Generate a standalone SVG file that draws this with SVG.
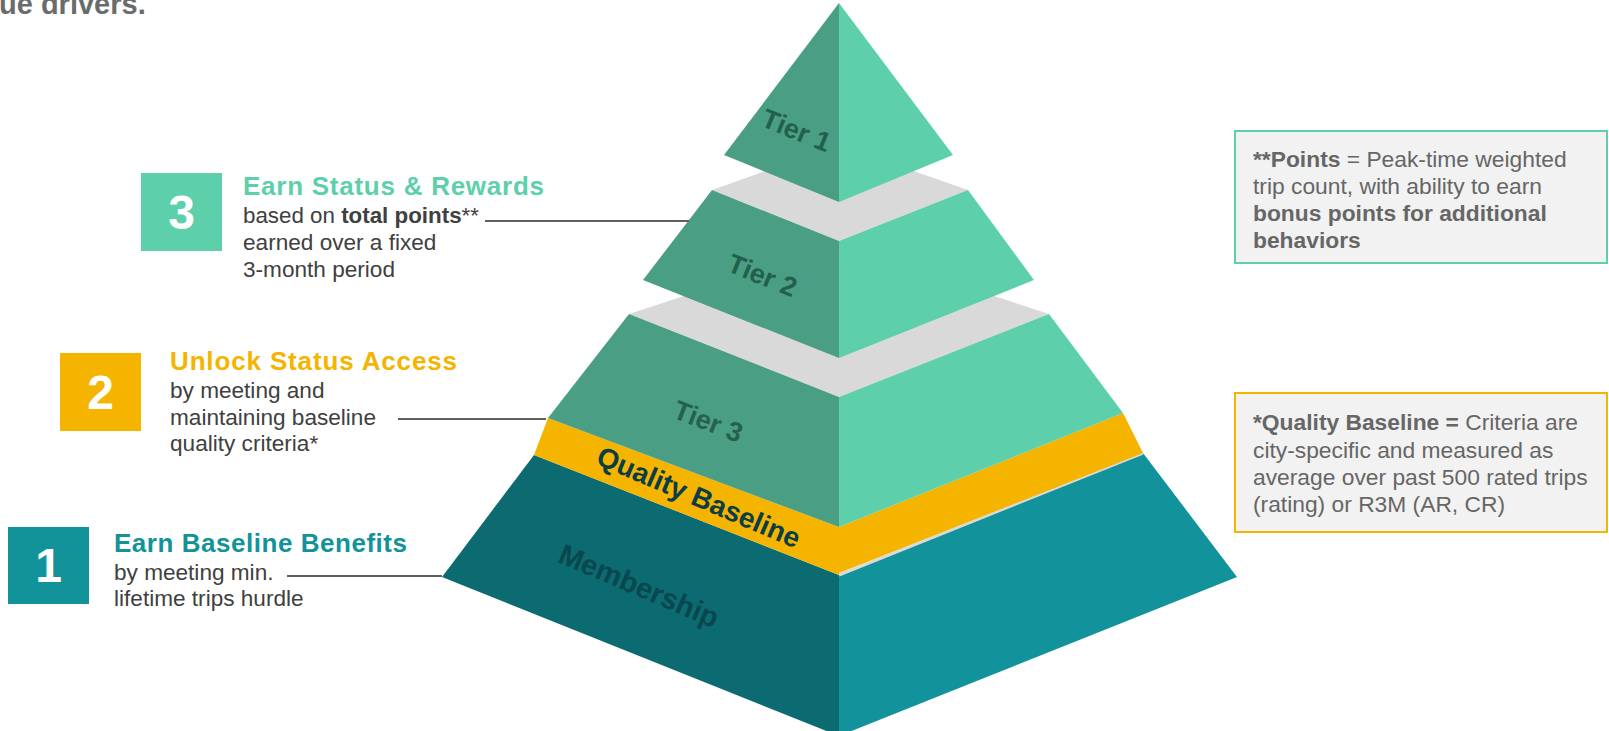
<svg xmlns="http://www.w3.org/2000/svg" width="1609" height="731" viewBox="0 0 1609 731">
<style>
.t{font-family:"Liberation Sans",Arial,sans-serif}
.num{font-family:"Liberation Sans",Arial,sans-serif;font-weight:bold;font-size:48px;fill:#fff;text-anchor:middle}
.title{font-family:"Liberation Sans",Arial,sans-serif;font-weight:bold;font-size:26px}
.body{font-family:"Liberation Sans",Arial,sans-serif;font-size:22.6px;fill:#404040}
.note{font-family:"Liberation Sans",Arial,sans-serif;font-size:22.8px;fill:#666}
.b{font-weight:bold}
.lbl{font-family:"Liberation Sans",Arial,sans-serif;font-weight:bold;text-anchor:middle}
.dk{fill:#4A9E84}.lt{fill:#5ECFAB}.gr{fill:#D9D9D9}.gd{fill:#F4B400}
.conn{stroke:#5f5f5f;stroke-width:2;fill:none}
</style>
<rect width="1609" height="731" fill="#fff"/>
<text class="t" x="-1" y="14" font-size="29" font-weight="bold" fill="#6b6b6b">ue drivers.</text>

<g id="pyramid">
  <g id="membership">
    <polygon points="534,455 839,575 839,736 442,577" fill="#0C6B71"/>
    <polygon points="839,575 1143,453 1237,577 839,736" fill="#12929A"/>
    <line x1="839" y1="575" x2="1143" y2="453" stroke="#DADADA" stroke-width="3"/>
    <text class="lbl" font-size="29" fill="#07474D" transform="translate(635,595) rotate(23)">Membership</text>
  </g>
  <g id="quality-baseline">
    <polygon points="548,418 839,527 839,575 534,455" class="gd"/>
    <polygon points="839,527 1123,413 1143,453 839,573" class="gd"/>
    <text class="lbl" font-size="28" fill="#0B3D47" transform="translate(695,506) rotate(23)">Quality Baseline</text>
  </g>
  <g id="tier3">
    <polygon points="629,314 839,245 1049,314 839,397" class="gr"/>
    <polygon points="629,314 839,397 839,527 548,418" class="dk"/>
    <polygon points="839,397 1049,314 1123,413 839,527" class="lt"/>
    <text class="lbl" font-size="27" fill="#24614E" transform="translate(705,430) rotate(21)">Tier 3</text>
  </g>
  <g id="tier2">
    <polygon points="712,190 839,145 968,190 839,241" class="gr"/>
    <polygon points="712,190 839,241 839,358 643,280" class="dk"/>
    <polygon points="839,241 968,190 1034,280 839,358" class="lt"/>
    <text class="lbl" font-size="27" fill="#22604C" transform="translate(759,284) rotate(22)">Tier 2</text>
  </g>
  <g id="tier1">
    <polygon points="839,3 839,202 724,155" class="dk"/>
    <polygon points="839,3 953,155 839,202" class="lt"/>
    <text class="lbl" font-size="27" fill="#22604C" transform="translate(793,139) rotate(22)">Tier 1</text>
  </g>
</g>

<g id="connectors">
  <line class="conn" x1="485" y1="221" x2="689" y2="221"/>
  <line class="conn" x1="398" y1="419" x2="546" y2="419"/>
  <line class="conn" x1="287" y1="576" x2="442" y2="576"/>
</g>

<g id="step3">
  <rect x="141" y="173" width="81" height="78" fill="#5ECFAB"/>
  <text class="num" x="181.5" y="229">3</text>
  <text class="title" x="243" y="195" fill="#5ECFAB" textLength="301" lengthAdjust="spacing">Earn Status &amp; Rewards</text>
  <text class="body" x="243" y="223" textLength="236" lengthAdjust="spacingAndGlyphs">based on <tspan class="b">total points</tspan>**</text>
  <text class="body" x="243" y="250">earned over a fixed</text>
  <text class="body" x="243" y="277">3-month period</text>
</g>

<g id="step2">
  <rect x="60" y="353" width="81" height="78" fill="#F4B400"/>
  <text class="num" x="100.5" y="409">2</text>
  <text class="title" x="170" y="370" fill="#F4B400" textLength="287" lengthAdjust="spacing">Unlock Status Access</text>
  <text class="body" x="170" y="398">by meeting and</text>
  <text class="body" x="170" y="425">maintaining baseline</text>
  <text class="body" x="170" y="451">quality criteria*</text>
</g>

<g id="step1">
  <rect x="8" y="527" width="81" height="77" fill="#12939A"/>
  <text class="num" x="48.5" y="582">1</text>
  <text class="title" x="114" y="552" fill="#12939A" textLength="293" lengthAdjust="spacing">Earn Baseline Benefits</text>
  <text class="body" x="114" y="580">by meeting min.</text>
  <text class="body" x="114" y="606">lifetime trips hurdle</text>
</g>

<g id="note-points">
  <rect x="1235" y="131" width="372" height="132" fill="#F2F2F2" stroke="#5ECFAB" stroke-width="2"/>
  <text class="note" x="1253" y="167"><tspan class="b">**Points</tspan> = Peak-time weighted</text>
  <text class="note" x="1253" y="194">trip count, with ability to earn</text>
  <text class="note b" x="1253" y="221">bonus points for additional</text>
  <text class="note b" x="1253" y="248">behaviors</text>
</g>

<g id="note-quality">
  <rect x="1235" y="393" width="372" height="139" fill="#F2F2F2" stroke="#F4B400" stroke-width="2"/>
  <text class="note" x="1253" y="430"><tspan class="b">*Quality Baseline =</tspan> Criteria are</text>
  <text class="note" x="1253" y="458">city-specific and measured as</text>
  <text class="note" x="1253" y="485">average over past 500 rated trips</text>
  <text class="note" x="1253" y="512">(rating) or R3M (AR, CR)</text>
</g>
</svg>
